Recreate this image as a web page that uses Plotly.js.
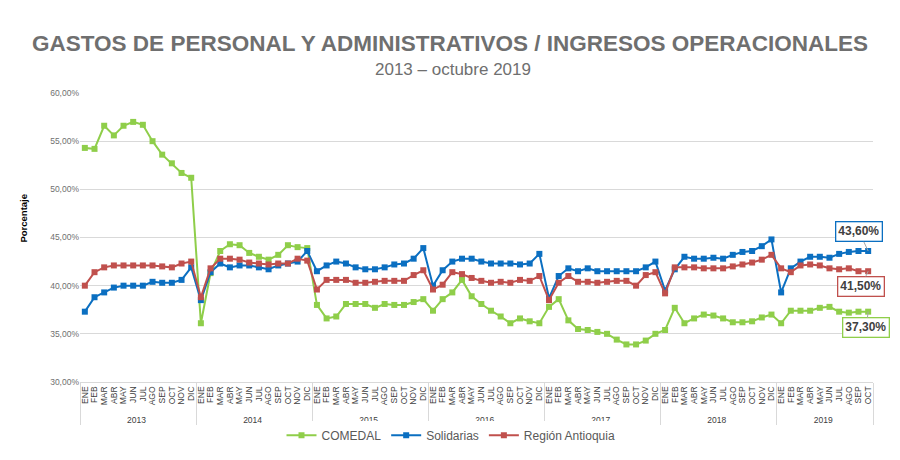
<!DOCTYPE html>
<html>
<head>
<meta charset="utf-8">
<script src="https://cdn.plot.ly/plotly-3.0.1.min.js"></script>
<style>
  html, body { margin: 0; padding: 0; background: #fff; }
  #chart { width: 900px; height: 460px; }
</style>
</head>
<body>
<div id="chart"></div>
<script>
// years / months on the two-level category axis
const years = ['2013', '2014', '2015', '2016', '2017', '2018', '2019'];
const months = ['ENE', 'FEB', 'MAR', 'ABR', 'MAY', 'JUN', 'JUL', 'AGO', 'SEP', 'OCT', 'NOV', 'DIC'];
const monthsLastYear = 10; // 2019 goes up to OCT

// % gastos / ingresos, ENE 2013 .. OCT 2019
const comedal = [
  54.3, 54.2, 56.6, 55.6, 56.6, 57.0, 56.7, 55.0, 53.6, 52.7, 51.7, 51.2,
  36.1, 41.3, 43.6, 44.3, 44.2, 43.4, 43.0, 42.7, 43.2, 44.2, 44.0, 43.9,
  38.0, 36.6, 36.8, 38.1, 38.1, 38.1, 37.7, 38.1, 38.0, 38.0, 38.3, 38.6,
  37.4, 38.6, 39.3, 40.6, 38.9, 38.1, 37.4, 36.8, 36.1, 36.6, 36.3, 36.1,
  37.8, 38.6, 36.4, 35.5, 35.4, 35.2, 35.0, 34.4, 33.9, 33.9, 34.3, 35.0,
  35.4, 37.7, 36.1, 36.6, 37.0, 36.9, 36.6, 36.2, 36.2, 36.3, 36.7, 37.0,
  36.1, 37.4, 37.4, 37.4, 37.7, 37.8, 37.3, 37.2, 37.3, 37.3
];
const solidarias = [
  37.3, 38.8, 39.3, 39.8, 40.0, 40.0, 40.0, 40.4, 40.3, 40.3, 40.6, 41.9,
  38.5, 41.4, 42.3, 41.9, 42.1, 42.1, 41.9, 41.7, 42.1, 42.3, 42.5, 43.6,
  41.5, 42.1, 42.5, 42.3, 41.9, 41.7, 41.7, 41.9, 42.2, 42.3, 42.8, 43.9,
  40.0, 41.6, 42.5, 42.8, 42.8, 42.5, 42.3, 42.3, 42.3, 42.2, 42.3, 43.3,
  38.7, 41.0, 41.8, 41.5, 41.8, 41.5, 41.5, 41.5, 41.5, 41.5, 41.9, 42.5,
  39.5, 41.7, 43.0, 42.8, 42.8, 42.9, 42.8, 43.2, 43.5, 43.6, 44.1, 44.8,
  39.3, 41.8, 42.5, 43.0, 43.0, 42.9, 43.3, 43.5, 43.6, 43.6
];
const region = [
  40.0, 41.4, 41.9, 42.1, 42.1, 42.1, 42.1, 42.1, 42.0, 41.9, 42.3, 42.5,
  38.8, 41.8, 42.8, 42.8, 42.7, 42.4, 42.3, 42.2, 42.3, 42.3, 42.8, 42.6,
  39.6, 40.6, 40.6, 40.6, 40.3, 40.3, 40.4, 40.5, 40.5, 40.5, 41.1, 41.6,
  39.6, 40.1, 41.4, 41.2, 40.8, 40.5, 40.3, 40.4, 40.3, 40.6, 40.5, 41.0,
  38.5, 40.3, 41.0, 40.4, 40.4, 40.3, 40.4, 40.5, 40.5, 40.0, 41.1, 41.4,
  39.2, 41.9, 41.9, 41.9, 41.8, 41.8, 41.8, 42.0, 42.2, 42.4, 42.7, 43.2,
  41.8, 41.4, 42.1, 42.2, 42.1, 41.8, 41.7, 41.8, 41.5, 41.5
];

const GREEN = '#8fce4a';
const BLUE = '#0b6fc1';
const RED = '#c0504d';
const FONT = 'Liberation Sans, Arial, sans-serif';

// build the [year, month] pairs
const xYear = [];
const xMonth = [];
years.forEach((y, i) => {
  const n = i === years.length - 1 ? monthsLastYear : months.length;
  for (let m = 0; m < n; m++) {
    xYear.push(y);
    xMonth.push(months[m]);
  }
});

function serie(name, vals, color) {
  return {
    x: [xYear, xMonth],
    y: vals,
    name: name,
    type: 'scatter',
    mode: 'lines+markers',
    line: {color: color, width: 2},
    marker: {color: color, symbol: 'square', size: 6},
    cliponaxis: false
  };
}

const data = [
  serie('COMEDAL', comedal, GREEN),
  serie('Solidarias', solidarias, BLUE),
  serie('Región Antioquia', region, RED)
];

function pct(v) {
  return v.toFixed(2).replace('.', ',') + '%';
}

function lastLabel(vals, color, ax, ay) {
  const i = vals.length - 1;
  return {
    x: i, y: vals[i], xref: 'x', yref: 'y',
    text: '<b>' + pct(vals[i]) + '</b>',
    showarrow: true, arrowhead: 0, arrowwidth: 1, arrowcolor: '#a6a6a6',
    ax: ax, ay: ay,
    bgcolor: '#ffffff', bordercolor: color, borderwidth: 1.3, borderpad: 2,
    font: {family: FONT, size: 12, color: '#404040'}
  };
}

const layout = {
  width: 900,
  height: 460,
  paper_bgcolor: '#ffffff',
  plot_bgcolor: '#ffffff',
  separators: ',.',
  font: {family: FONT, color: '#595959'},
  margin: {l: 80, r: 27, t: 93, b: 77},
  showlegend: true,
  title: {
    text: '<b>GASTOS DE PERSONAL Y ADMINISTRATIVOS / INGRESOS OPERACIONALES</b>',
    font: {family: FONT, size: 22.5, color: '#6f6f6f'},
    x: 0.5, xanchor: 'center',
    y: 1 - 43 / 460, yref: 'container', yanchor: 'middle',
    automargin: false
  },
  legend: {
    orientation: 'h',
    x: (451 - 80) / 793, xanchor: 'center',
    y: -0.18, yanchor: 'middle',
    font: {family: FONT, size: 12, color: '#595959'},
    itemwidth: 30
  },
  xaxis: {
    type: 'multicategory',
    automargin: false,
    autorange: false,
    range: [-0.5, xMonth.length - 0.5],
    tickmode: 'linear',
    tick0: 0,
    dtick: 1,
    tickangle: -90,
    tickfont: {family: FONT, size: 8.5, color: '#404040'},
    showgrid: false,
    showline: true,
    linecolor: '#d9d9d9',
    showdividers: true,
    dividercolor: '#d9d9d9',
    dividerwidth: 1,
    ticks: ''
  },
  yaxis: {
    automargin: false,
    range: [30, 60],
    dtick: 5,
    tickformat: '.2f',
    ticksuffix: '%',
    tickfont: {family: FONT, size: 8.5, color: '#707070'},
    gridcolor: '#d9d9d9',
    gridwidth: 1,
    zeroline: false,
    showline: false,
    ticks: ''
  },
  annotations: [
    {
      text: '2013 – octubre 2019',
      xref: 'paper', yref: 'paper',
      x: (453 - 80) / 793, y: (383 - 69) / 290,
      xanchor: 'center', yanchor: 'middle',
      showarrow: false,
      font: {family: FONT, size: 17, color: '#6f6f6f'}
    },
    {
      text: '<b>Porcentaje</b>',
      xref: 'paper', yref: 'paper',
      x: (24 - 80) / 793, y: (383 - 218) / 290,
      xanchor: 'center', yanchor: 'middle',
      textangle: -90,
      showarrow: false,
      font: {family: FONT, size: 9.5, color: '#000000'}
    },
    lastLabel(solidarias, BLUE, -9, -19),
    lastLabel(region, RED, -7, 15),
    lastLabel(comedal, GREEN, -2, 16)
  ]
};

const config = {responsive: false, displayModeBar: false};
Plotly.newPlot('chart', data, layout, config);
</script>
</body>
</html>
